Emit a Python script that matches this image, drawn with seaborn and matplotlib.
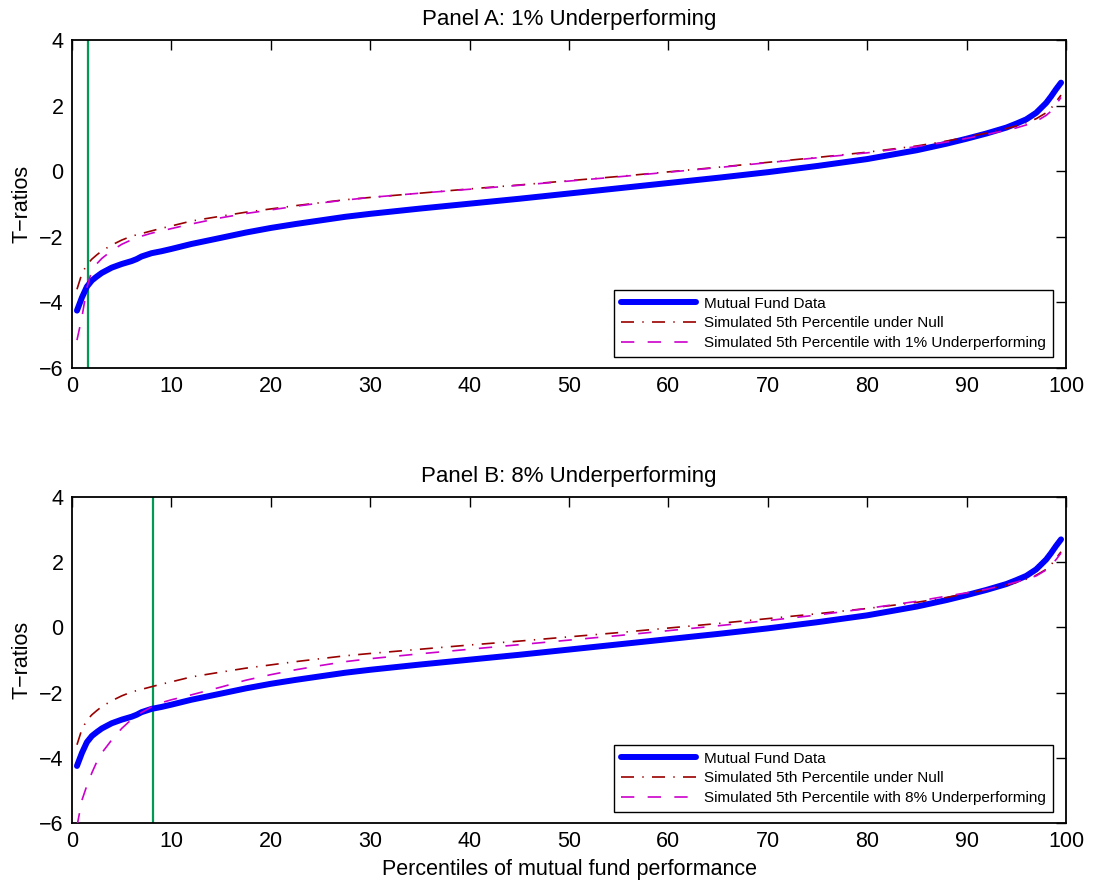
import numpy as np
import pandas as pd
import matplotlib
matplotlib.use("Agg")
import matplotlib.pyplot as plt
import seaborn as sns

# ---- data ----
percentiles = [0.5, 1, 1.5, 2, 2.5, 3, 4, 5, 6, 6.5, 7, 8, 9, 10, 12, 15, 17.5, 20,
               22.5, 25, 27.5, 30, 35, 40, 45, 50, 55, 60, 65, 70, 75, 80, 85, 88,
               90, 92, 94, 95, 96, 97, 98, 98.5, 99, 99.5]

fund_data = [-4.25, -3.85, -3.52, -3.33, -3.21, -3.10, -2.94, -2.83, -2.74, -2.68,
             -2.60, -2.50, -2.44, -2.37, -2.22, -2.03, -1.87, -1.73,
             -1.61, -1.50, -1.39, -1.30, -1.14, -0.99, -0.84, -0.68, -0.52, -0.36,
             -0.20, -0.03, 0.16, 0.37, 0.64, 0.84,
             0.99, 1.15, 1.33, 1.45, 1.58, 1.78, 2.08, 2.28, 2.50, 2.70]

null_p5 = [-3.60, -3.12, -2.85, -2.68, -2.55, -2.43, -2.25, -2.10, -1.98, -1.94,
           -1.90, -1.82, -1.74, -1.67, -1.52, -1.37, -1.25, -1.15,
           -1.05, -0.96, -0.87, -0.80, -0.67, -0.54, -0.42, -0.29, -0.16, -0.02,
           0.12, 0.27, 0.42, 0.58, 0.77, 0.92,
           1.04, 1.16, 1.30, 1.38, 1.48, 1.60, 1.78, 1.92, 2.12, 2.32]

under1_p5 = [-5.15, -4.45, -3.55, -3.02, -2.82, -2.66, -2.42, -2.23, -2.09, -2.03,
             -1.98, -1.89, -1.82, -1.75, -1.61, -1.42, -1.29, -1.18,
             -1.07, -0.97, -0.88, -0.80, -0.67, -0.55, -0.43, -0.30, -0.17, -0.03,
             0.11, 0.26, 0.41, 0.56, 0.75, 0.89,
             1.00, 1.12, 1.25, 1.32, 1.41, 1.52, 1.70, 1.83, 2.03, 2.25]

under8_p5 = [-6.10, -5.30, -4.85, -4.46, -4.12, -3.85, -3.45, -3.10, -2.82, -2.71,
             -2.61, -2.44, -2.31, -2.22, -2.07, -1.83, -1.62, -1.45,
             -1.30, -1.17, -1.05, -0.96, -0.81, -0.67, -0.53, -0.39, -0.25, -0.10,
             0.05, 0.21, 0.38, 0.58, 0.80, 0.96,
             1.06, 1.17, 1.31, 1.39, 1.48, 1.58, 1.76, 1.90, 2.08, 2.28]

cutoffs = [1.6, 8.1]
titles = ["Panel A: 1% Underperforming", "Panel B: 8% Underperforming"]
under_labels = ["Simulated 5th Percentile with 1% Underperforming",
                "Simulated 5th Percentile with 8% Underperforming"]
x_ticks = [0, 10, 20, 30, 40, 50, 60, 70, 80, 90, 100]
y_ticks = [-6, -4, -2, 0, 2, 4]

# ---- style ----
sns.set_style("white")
plt.rcParams["font.family"] = ["Liberation Sans", "DejaVu Sans"]
plt.rcParams["axes.unicode_minus"] = True
plt.rcParams["text.color"] = "black"
plt.rcParams["axes.labelcolor"] = "black"

fig = plt.figure(figsize=(10.94, 8.88), dpi=100)
W, H = 1094, 888
ax_left, ax_right = 72, 1066
positions = [(40, 368), (497, 823)]

under_series = [under1_p5, under8_p5]
FS = 15.5

for i, (top, bottom) in enumerate(positions):
    ax = fig.add_axes([ax_left / W, 1 - bottom / H, (ax_right - ax_left) / W, (bottom - top) / H])
    df = pd.DataFrame({"pct": percentiles, "fund": fund_data,
                       "null": null_p5, "under": under_series[i]})

    ax.axvline(cutoffs[i], color="#009a55", lw=1.6, zorder=1)
    sns.lineplot(data=df, x="pct", y="fund", ax=ax, color="#0000ff", lw=4.3,
                 estimator=None, errorbar=None, label="Mutual Fund Data", zorder=3)
    sns.lineplot(data=df, x="pct", y="null", ax=ax, color="#990000", lw=1.2,
                 linestyle=(0, (7.8, 5, 0.8, 5)), estimator=None, errorbar=None,
                 label="Simulated 5th Percentile under Null", zorder=4)
    sns.lineplot(data=df, x="pct", y="under", ax=ax, color="#cc00cc", lw=1.2,
                 linestyle=(0, (8, 8)), estimator=None, errorbar=None,
                 label=under_labels[i], zorder=4)

    ax.set_xlim(0, 100)
    ax.set_ylim(-6, 4)
    ax.set_xticks(x_ticks)
    ax.set_yticks(y_ticks)
    ax.tick_params(direction="in", length=7, width=1, top=True, right=True,
                   labelsize=FS, pad=6, colors="black")
    for s in ax.spines.values():
        s.set_color("black")
        s.set_linewidth(1.3)
    ax.set_title(titles[i], fontsize=16, pad=11, color="black")
    ax.set_ylabel("T\u2212ratios", fontsize=FS, labelpad=5)
    if i == 1:
        ax.set_xlabel("Percentiles of mutual fund performance", fontsize=FS, labelpad=5)
    else:
        ax.set_xlabel("")

    leg_right = 1053
    leg_bottom = bottom - 11
    anchor = ((leg_right - ax_left) / (ax_right - ax_left), (bottom - leg_bottom) / (bottom - top))
    leg = ax.legend(loc="lower right", bbox_to_anchor=anchor, borderaxespad=0,
                    fontsize=11, frameon=True, fancybox=False, framealpha=1,
                    edgecolor="black", handlelength=4.9, handletextpad=0.55,
                    labelspacing=0.38, borderpad=0.45)
    leg.get_frame().set_linewidth(1.0)

fig.savefig("out.png", dpi=100)
